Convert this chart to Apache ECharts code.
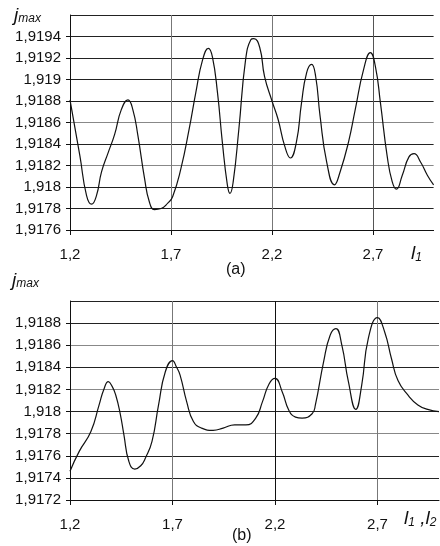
<!DOCTYPE html>
<html>
<head>
<meta charset="utf-8">
<script src="https://cdn.jsdelivr.net/npm/echarts@6/dist/echarts.min.js"></script>
<style>
  html, body { margin: 0; padding: 0; background: #fff; }
  #chart { width: 440px; height: 546px; }
</style>
</head>
<body>
<div id="chart"></div>
<script>
// panel (a): j_max vs l1
const xA = [1.2, 1.249, 1.282, 1.307, 1.331, 1.356, 1.389, 1.421, 1.454, 1.487, 1.511, 1.536, 1.569, 1.593,
  1.618, 1.651, 1.684, 1.708, 1.749, 1.79, 1.823, 1.856, 1.885, 1.905, 1.93, 1.954, 1.979, 1.992, 2.008,
  2.036, 2.069, 2.095, 2.11, 2.139, 2.163, 2.2, 2.23, 2.263, 2.291, 2.321, 2.346, 2.371, 2.396, 2.416,
  2.438, 2.471, 2.509, 2.537, 2.579, 2.612, 2.653, 2.687, 2.712, 2.737, 2.77, 2.795, 2.816, 2.845, 2.878,
  2.903, 2.936, 2.969, 3.0]
const yA = [1.91881, 1.91829, 1.91792, 1.91784, 1.91792, 1.91814, 1.91832, 1.91849, 1.91872, 1.91881, 1.91872,
  1.91848, 1.91808, 1.91786, 1.91779, 1.9178, 1.91785, 1.91791, 1.91817, 1.91854, 1.91888, 1.91918, 1.91929,
  1.91921, 1.91888, 1.91842, 1.91802, 1.91794, 1.91805, 1.91854, 1.91918, 1.91937, 1.91938, 1.9193, 1.91903,
  1.9188, 1.91863, 1.91838, 1.91827, 1.91842, 1.91878, 1.91906, 1.91914, 1.91903, 1.91866, 1.91823, 1.91802,
  1.91814, 1.91842, 1.91872, 1.91909, 1.91925, 1.91912, 1.91878, 1.91829, 1.91805, 1.91798, 1.91811, 1.91828,
  1.91831, 1.91823, 1.91811, 1.91802]

// panel (b): j_max vs l1, l2
const xB = [1.2, 1.245, 1.302, 1.342, 1.365, 1.387, 1.405, 1.423, 1.445, 1.463, 1.487, 1.516, 1.545, 1.568,
  1.6, 1.632, 1.665, 1.7, 1.72, 1.737, 1.769, 1.802, 1.842, 1.898, 1.947, 2.003, 2.058, 2.106, 2.139, 2.171,
  2.2, 2.235, 2.268, 2.3, 2.332, 2.381, 2.397, 2.437, 2.469, 2.497, 2.526, 2.558, 2.594, 2.623, 2.655, 2.7,
  2.735, 2.768, 2.8, 2.848, 2.897, 2.945, 3.0]
const yB = [1.91746, 1.91764, 1.91782, 1.91806, 1.9182, 1.91827, 1.91823, 1.91815, 1.91798, 1.91779, 1.91755,
  1.91748, 1.91751, 1.91758, 1.91773, 1.91806, 1.91836, 1.91846, 1.9184, 1.91833, 1.91809, 1.91791, 1.91785,
  1.91783, 1.91785, 1.91788, 1.91788, 1.91794, 1.91809, 1.91825, 1.9183, 1.91818, 1.91801, 1.91795, 1.91794,
  1.91798, 1.91806, 1.91845, 1.91869, 1.91875, 1.9186, 1.91827, 1.91802, 1.91824, 1.91866, 1.91885, 1.91872,
  1.91848, 1.91828, 1.91815, 1.91806, 1.91802, 1.918]

const xRange = [1.2, 3.0]
const yRangeA = [1.9176, 1.9196]
const yRangeB = [1.9172, 1.919]
const labelFont = 'Liberation Sans'

function comma(v, digits) {
  return String(+v.toFixed(digits)).replace('.', ',')
}

const chart = echarts.init(document.getElementById('chart'))

function xAxisOf(gridIndex, splitColors) {
  return {
    type: 'value', gridIndex, min: xRange[0], max: xRange[1], interval: 0.5,
    axisLine: { lineStyle: { color: '#111', width: 1 } },
    axisTick: { length: 5, lineStyle: { color: '#111' } },
    axisLabel: { showMaxLabel: false, margin: 17, color: '#111', fontFamily: labelFont, fontSize: 15,
      formatter: (v) => comma(v, 1) },
    splitLine: { show: true, showMinLine: false, showMaxLine: false, lineStyle: { color: splitColors, width: 1 } },
  }
}

function yAxisOf(gridIndex, range, splitColors) {
  return {
    type: 'value', gridIndex, min: range[0], max: range[1], interval: 0.0002,
    axisLine: { show: true, lineStyle: { color: '#111', width: 1 } },
    axisTick: { show: true, length: 4, lineStyle: { color: '#111' } },
    axisLabel: { showMaxLabel: false, margin: 9, color: '#111', fontFamily: labelFont, fontSize: 15,
      formatter: (v) => comma(v, 4) },
    splitLine: { show: true, showMinLine: false, lineStyle: { color: splitColors, width: 1 } },
  }
}

function lineSeries(idx, xs, ys) {
  return {
    type: 'line', xAxisIndex: idx, yAxisIndex: idx, smooth: 0.5, symbol: 'none',
    lineStyle: { color: '#111', width: 1.2 },
    data: xs.map((x, i) => [x, ys[i]]),
  }
}

const italic = { fontFamily: labelFont, fontStyle: 'italic', fill: '#111' }

chart.setOption({
  animation: false,
  grid: [
    { left: 70, top: 15, width: 363.6, height: 215 },
    { left: 70, top: 301, width: 369, height: 199 },
  ],
  xAxis: [
    xAxisOf(0, ['#777', '#777', '#555']),
    xAxisOf(1, ['#777', '#111', '#777']),
  ],
  yAxis: [
    yAxisOf(0, yRangeA, ['#222', '#222', '#888', '#222', '#888', '#222', '#222', '#222', '#222', '#222']),
    yAxisOf(1, yRangeB, ['#222', '#222', '#888', '#222', '#888', '#222', '#888', '#222', '#222']),
  ],
  series: [lineSeries(0, xA, yA), lineSeries(1, xB, yB)],
  graphic: [
    { type: 'text', left: 14, top: 6, style: { ...italic, text: '{j|j}{m|max}',
      rich: { j: { fontSize: 19, fontFamily: labelFont, fontStyle: 'italic' }, m: { fontSize: 12, fontFamily: labelFont, fontStyle: 'italic', padding: [6, 0, 0, 0] } } } },
    { type: 'text', left: 12, top: 271, style: { ...italic, text: '{j|j}{m|max}',
      rich: { j: { fontSize: 19, fontFamily: labelFont, fontStyle: 'italic' }, m: { fontSize: 12, fontFamily: labelFont, fontStyle: 'italic', padding: [6, 0, 0, 0] } } } },
    { type: 'text', left: 411, top: 244, style: { ...italic, text: '{l|l}{s|1}',
      rich: { l: { fontSize: 19, fontFamily: labelFont, fontStyle: 'italic' }, s: { fontSize: 12, fontFamily: labelFont, fontStyle: 'italic', padding: [8, 0, 0, 0] } } } },
    { type: 'text', left: 404, top: 509, style: { ...italic, text: '{l|l}{s|1}{l| ,l}{s|2}',
      rich: { l: { fontSize: 19, fontFamily: labelFont, fontStyle: 'italic' }, s: { fontSize: 12, fontFamily: labelFont, fontStyle: 'italic', padding: [8, 0, 0, 0] } } } },
    { type: 'text', left: 226, top: 262, style: { text: '(a)', fontFamily: labelFont, fontSize: 16, fill: '#111' } },
    { type: 'text', left: 232, top: 528, style: { text: '(b)', fontFamily: labelFont, fontSize: 16, fill: '#111' } },
  ],
})
</script>
</body>
</html>
